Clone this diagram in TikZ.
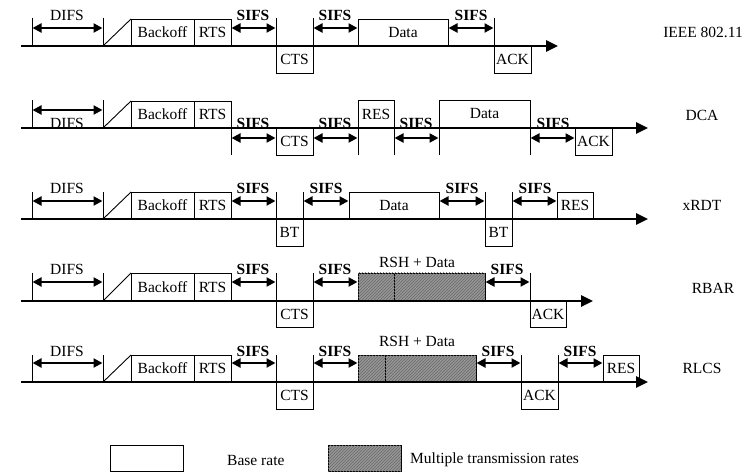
\documentclass[tikz,border=0pt]{standalone}
\usepackage{fontspec}
\setmainfont{Liberation Serif}
\usetikzlibrary{arrows.meta,patterns}
\definecolor{shadefill}{RGB}{150,150,150}
\definecolor{shadeline}{RGB}{105,105,105}
\tikzset{
  pkt/.style={draw=black,line width=0.9pt,fill=white,inner sep=0pt,outer sep=0pt,font=\fontsize{15.5}{17}\selectfont},
  shaded/.style={draw=black,line width=0.9pt,fill=shadefill,inner sep=0pt,outer sep=0pt,
    postaction={pattern=north east lines,pattern color=shadeline}},
  tickline/.style={line width=0.9pt},
  dimar/.style={line width=2.2pt,{Triangle[length=9pt,width=9pt]}-{Triangle[length=9pt,width=9pt]},shorten <=0.5pt,shorten >=0.5pt},
  axisline/.style={line width=2.6pt,-{Triangle[length=12pt,width=11pt]}},
  lbl/.style={inner sep=0pt,font=\fontsize{15.5}{17}\selectfont},
  slbl/.style={inner sep=0pt,font=\fontsize{15.5}{17}\selectfont\bfseries},
  rowlbl/.style={inner sep=0pt,font=\fontsize{15.5}{17}\selectfont},
  diag/.style={line width=0.9pt}
}
% box: name, x1, y1, x2, y2, text
\newcommand{\pbox}[6]{\node[pkt,minimum width={(#4-#2)*1pt},minimum height={(#5-#3)*1pt}] (#1) at ({(#2+#4)/2},{(#3+#5)/2}) {#6};}
\newcommand{\shbox}[5]{\node[shaded,minimum width={(#4-#2)*1pt},minimum height={(#5-#3)*1pt}] (#1) at ({(#2+#4)/2},{(#3+#5)/2}) {};}
% tick: name, x, ytop, ybottom
\newcommand{\tk}[4]{\coordinate (#1t) at (#2,#3); \coordinate (#1b) at (#2,#4); \draw[tickline] (#1t) -- (#1b);}
% dimension arrow: name, x1, x2, y
\newcommand{\dm}[4]{\coordinate (#1a) at (#2,#4); \coordinate (#1b) at (#3,#4); \draw[dimar] (#1a) -- (#1b);}
\begin{document}
\begin{tikzpicture}[x=1pt,y=-1pt]
\useasboundingbox (0,0) rectangle (753,473);

% ================= Row 1: IEEE 802.11 =================
\tk{aa}{32}{18}{46} \tk{ab}{103}{18}{46}
\dm{ad}{32}{103}{28} \node[lbl] (adl) at (67,15) {DIFS};
\coordinate (ag1) at (103,46); \coordinate (ag2) at (131,19); \draw[diag] (ag1) -- (ag2);
\pbox{abk}{131}{19}{194}{46}{Backoff}
\pbox{arts}{194}{19}{231}{46}{RTS}
\tk{ac}{276}{18}{46}
\dm{as1}{231}{276}{28} \node[slbl] (as1l) at (253,15) {SIFS};
\pbox{acts}{276}{46}{313}{73}{CTS}
\tk{ae}{313}{18}{46}
\dm{as2}{313}{358}{28} \node[slbl] (as2l) at (335,15) {SIFS};
\pbox{adata}{358}{19}{448}{46}{Data}
\tk{af}{494}{18}{46}
\dm{as3}{448}{494}{28} \node[slbl] (as3l) at (471,15) {SIFS};
\pbox{aack}{494}{46}{531}{73}{ACK}
\coordinate (ax1) at (21,46); \coordinate (ax2) at (558,46);
\draw[axisline] (ax1) -- (ax2);
\node[rowlbl] (alab) at (703,32) {IEEE 802.11};

% ================= Row 2: DCA =================
\tk{ba}{32}{100}{128} \tk{bb}{103}{100}{128}
\dm{bd}{32}{103}{110}
\coordinate (bg1) at (103,128); \coordinate (bg2) at (131,101); \draw[diag] (bg1) -- (bg2);
\pbox{bbk}{131}{101}{194}{128}{Backoff}
\pbox{brts}{194}{101}{231}{128}{RTS}
\tk{bc}{231}{128}{155}
\dm{bs1}{231}{276}{138}
\pbox{bcts}{276}{128}{313}{155}{CTS}
\tk{be}{358}{128}{155}
\dm{bs2}{313}{358}{138}
\pbox{bres}{358}{100}{394}{128}{RES}
\tk{bf}{394}{128}{155} \tk{bh}{439}{128}{155}
\dm{bs3}{394}{439}{138}
\pbox{bdata}{439}{100}{530}{128}{Data}
\tk{bi}{530}{128}{155}
\dm{bs4}{530}{575}{138}
\pbox{back}{575}{128}{612}{155}{ACK}
\begin{scope}
  \clip (0,0) rectangle (753,126.5);
  \node[lbl,anchor=base] (bdl) at (67,128.5) {DIFS};
  \node[slbl,anchor=base] (bs1l) at (253,128.5) {SIFS};
  \node[slbl,anchor=base] (bs2l) at (335,128.5) {SIFS};
  \node[slbl,anchor=base] (bs3l) at (416,128.5) {SIFS};
  \node[slbl,anchor=base] (bs4l) at (553,128.5) {SIFS};
\end{scope}
\coordinate (bx1) at (21,128); \coordinate (bx2) at (648,128);
\draw[axisline] (bx1) -- (bx2);
\node[rowlbl] (blab) at (702,115) {DCA};

% ================= Row 3: xRDT =================
\tk{ca}{32}{192}{219} \tk{cb}{103}{192}{219}
\dm{cd}{32}{103}{201} \node[lbl] (cdl) at (67,188) {DIFS};
\coordinate (cg1) at (103,219); \coordinate (cg2) at (131,192); \draw[diag] (cg1) -- (cg2);
\pbox{cbk}{131}{192}{194}{219}{Backoff}
\pbox{crts}{194}{192}{231}{219}{RTS}
\tk{cc}{276}{192}{219}
\dm{cs1}{231}{276}{201} \node[slbl] (cs1l) at (253,188) {SIFS};
\pbox{cbt1}{276}{219}{303}{246}{BT}
\tk{ce}{303}{192}{219}
\dm{cs2}{303}{349}{201} \node[slbl] (cs2l) at (326,188) {SIFS};
\pbox{cdata}{349}{192}{439}{219}{Data}
\tk{cf}{485}{192}{219}
\dm{cs3}{439}{485}{201} \node[slbl] (cs3l) at (462,188) {SIFS};
\pbox{cbt2}{485}{219}{512}{246}{BT}
\tk{ch}{512}{192}{219}
\dm{cs4}{512}{557}{201} \node[slbl] (cs4l) at (535,188) {SIFS};
\pbox{cres}{557}{192}{593}{219}{RES}
\coordinate (cx1) at (21,219); \coordinate (cx2) at (648,219);
\draw[axisline] (cx1) -- (cx2);
\node[rowlbl] (clab) at (702,205) {xRDT};

% ================= Row 4: RBAR =================
\tk{da}{32}{273}{301} \tk{db}{103}{273}{301}
\dm{dd}{32}{103}{282} \node[lbl] (ddl) at (67,269) {DIFS};
\coordinate (dg1) at (103,301); \coordinate (dg2) at (131,273); \draw[diag] (dg1) -- (dg2);
\pbox{dbk}{131}{273}{194}{301}{Backoff}
\pbox{drts}{194}{273}{231}{301}{RTS}
\tk{dc}{276}{273}{301}
\dm{ds1}{231}{276}{282} \node[slbl] (ds1l) at (253,269) {SIFS};
\pbox{dcts}{276}{301}{313}{327}{CTS}
\tk{de}{313}{273}{301}
\dm{ds2}{313}{358}{282} \node[slbl] (ds2l) at (335,269) {SIFS};
\shbox{drsh}{358}{273}{394}{301}
\shbox{ddata}{394}{273}{485}{301}
\node[lbl] (drl) at (417,262) {RSH + Data};
\tk{df}{530}{273}{301}
\dm{ds3}{485}{530}{282} \node[slbl] (ds3l) at (507,269) {SIFS};
\pbox{dack}{530}{301}{566}{327}{ACK}
\coordinate (dx1) at (21,301); \coordinate (dx2) at (593,301);
\draw[axisline] (dx1) -- (dx2);
\node[rowlbl] (dlab) at (713,288) {RBAR};

% ================= Row 5: RLCS =================
\tk{ea}{32}{355}{382} \tk{eb}{103}{355}{382}
\dm{ed}{32}{103}{363} \node[lbl] (edl) at (67,351) {DIFS};
\coordinate (eg1) at (103,382); \coordinate (eg2) at (131,355); \draw[diag] (eg1) -- (eg2);
\pbox{ebk}{131}{355}{194}{382}{Backoff}
\pbox{erts}{194}{355}{231}{382}{RTS}
\tk{ec}{276}{355}{382}
\dm{es1}{231}{276}{363} \node[slbl] (es1l) at (253,351) {SIFS};
\pbox{ects}{276}{382}{313}{409}{CTS}
\tk{ee}{313}{355}{382}
\dm{es2}{313}{358}{363} \node[slbl] (es2l) at (335,351) {SIFS};
\shbox{ersh}{358}{355}{385}{382}
\shbox{edata}{385}{355}{476}{382}
\node[lbl] (erl) at (417,341) {RSH + Data};
\tk{ef}{521}{355}{382}
\dm{es3}{476}{521}{363} \node[slbl] (es3l) at (498,351) {SIFS};
\pbox{eack}{521}{382}{558}{409}{ACK}
\tk{eh}{558}{355}{382}
\dm{es4}{558}{603}{363} \node[slbl] (es4l) at (580,351) {SIFS};
\pbox{eres}{603}{355}{639}{382}{RES}
\coordinate (ex1) at (21,382); \coordinate (ex2) at (648,382);
\draw[axisline] (ex1) -- (ex2);
\node[rowlbl] (elab) at (702,368) {RLCS};

% ================= Legend =================
\pbox{lg1}{110}{445}{183}{471}{}
\node[lbl,anchor=west] (lg1l) at (227,460) {Base rate};
\shbox{lg2}{328}{445}{401}{471}
\node[lbl,anchor=west] (lg2l) at (410,460) {Multiple transmission rates};
\end{tikzpicture}
\end{document}
